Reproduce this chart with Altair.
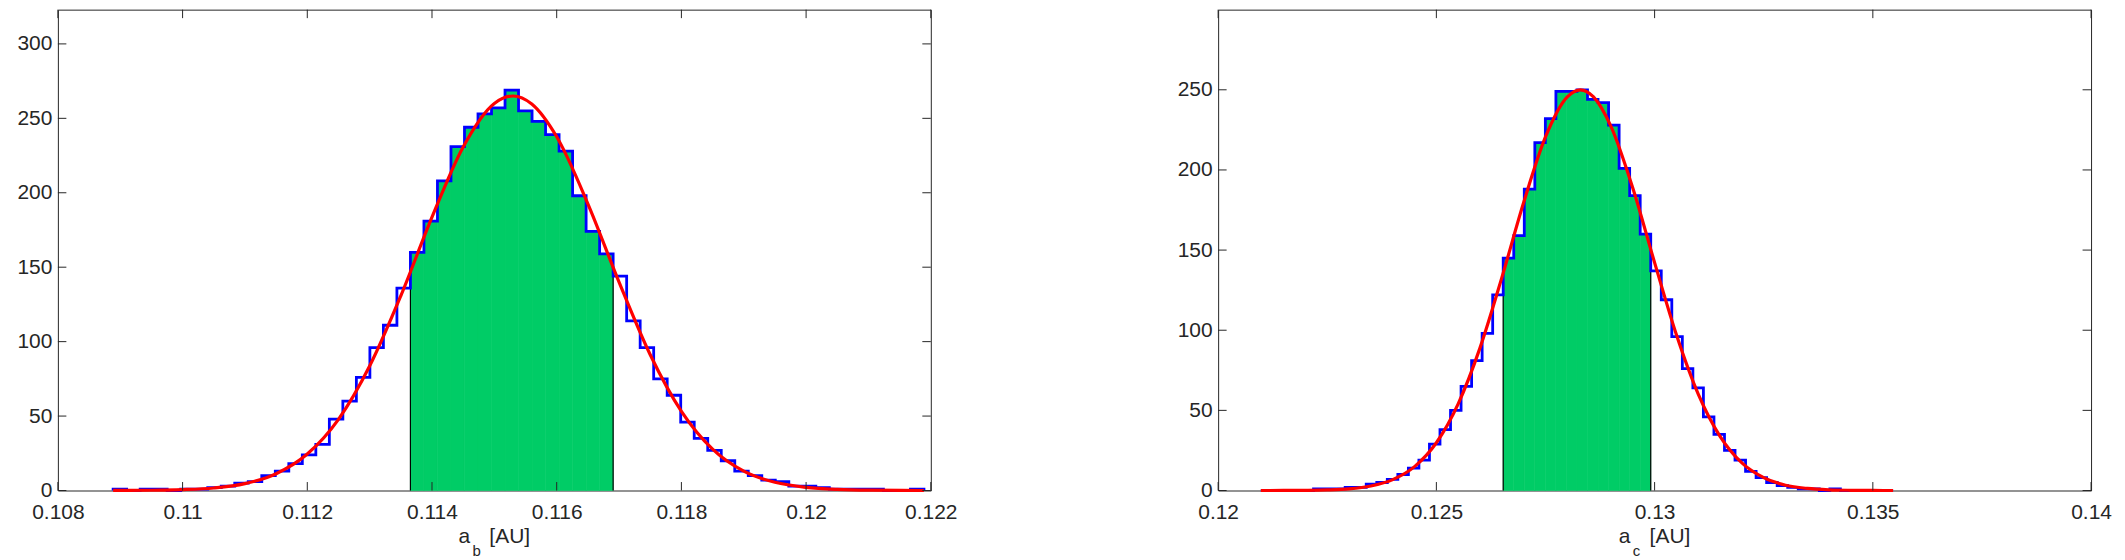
import altair as alt
import pandas as pd
import numpy as np

# ---------------- data ----------------
# 60-bin histograms (counts per bin)
left_counts = [1, 0, 1, 1, 0, 1, 1, 2, 3, 5,
               6, 10, 13, 18, 24, 31, 48, 60, 76, 96,
               111, 136, 160, 181, 208, 231, 244, 253, 257, 269,
               255, 248, 239, 228, 198, 174, 159, 144, 114, 96,
               75, 64, 46, 35, 27, 20, 13, 10, 7, 6,
               3, 3, 2, 1, 1, 1, 1, 0, 0, 1]
right_counts = [0, 0, 0, 0, 0, 1, 1, 1, 2, 2,
                4, 5, 7, 10, 14, 19, 29, 38, 50, 65,
                81, 98, 122, 145, 159, 188, 217, 232, 249, 249,
                250, 244, 242, 228, 201, 184, 160, 137, 119, 96,
                76, 64, 46, 35, 25, 19, 12, 8, 5, 3,
                2, 1, 1, 0, 1, 0, 0, 0, 0, 0]
# histogram data range (first and last bin edge)
left_range = [0.108886, 0.12189]
right_range = [0.120979, 0.135464]
# bins shaded green: [first, last+1)
left_green = [22, 37]
right_green = [23, 37]

# fitted curves
left_fit_x = [0.108886, 0.1095, 0.110, 0.1105, 0.111, 0.1115, 0.112, 0.1125, 0.113,
              0.1135, 0.114, 0.1145, 0.115, 0.1153, 0.1156, 0.116, 0.1165, 0.117,
              0.1175, 0.118, 0.1185, 0.119, 0.1195, 0.120, 0.1205, 0.121, 0.12189]
left_fit_y = [0.03, 0.17, 0.6, 1.7, 4.6, 11.3, 24.5, 47.8, 83.6,
              130.8, 183.6, 230.8, 260.0, 265.0, 259.6, 237.6, 192.6, 140.0,
              91.2, 53.2, 27.8, 13.0, 5.5, 2.1, 0.7, 0.2, 0.02]
right_fit_x = [0.120979, 0.1215, 0.122, 0.1225, 0.123, 0.1235, 0.124, 0.1245, 0.125,
               0.1255, 0.126, 0.1265, 0.127, 0.1275, 0.128, 0.1283, 0.1286, 0.129,
               0.1295, 0.130, 0.1305, 0.131, 0.1315, 0.132, 0.1325, 0.133, 0.1335,
               0.134, 0.1345, 0.135, 0.135464]
right_fit_y = [0.01, 0.03, 0.11, 0.35, 1.0, 2.8, 6.8, 14.9, 29.8,
               54.1, 89.0, 132.8, 179.7, 220.6, 245.6, 250.0, 245.6, 227.2,
               188.7, 142.2, 97.2, 60.2, 33.8, 17.2, 8.0, 3.3, 1.3,
               0.44, 0.14, 0.04, 0.01]

# axes
left_xdomain = [0.108, 0.122]
left_ymax = 323
left_xticks = [0.108, 0.110, 0.112, 0.114, 0.116, 0.118, 0.120, 0.122]
left_yticks = [0, 50, 100, 150, 200, 250, 300]
right_xdomain = [0.12, 0.14]
right_ymax = 300
right_xticks = [0.12, 0.125, 0.13, 0.135, 0.14]
right_yticks = [0, 50, 100, 150, 200, 250]

# ---------------- style ----------------
W, H = 875, 482
TICK = 8.5
FONT = "Liberation Sans"
FS = 21
AX = "#262626"
GREEN = "#00CC66"
BLUE = "#0000FF"
RED = "#FF0000"


def panel(counts, rng, green, fx, fy, xticks, yticks, xdom, ymax, sub):
    n = len(counts)
    edges = np.linspace(rng[0], rng[1], n + 1)
    bars = pd.DataFrame({"x0": edges[:-1], "x1": edges[1:],
                         "count": counts, "base": 0})
    g = bars.iloc[green[0]:green[1]]

    sx, sy = [edges[0]], [0]
    for i, c in enumerate(counts):
        sx += [edges[i], edges[i + 1]]
        sy += [c, c]
    sx.append(edges[-1])
    sy.append(0)
    steps = pd.DataFrame({"x": sx, "y": sy, "o": list(range(len(sx)))})

    bounds = pd.DataFrame({"x": [g["x0"].iloc[0], g["x1"].iloc[-1]],
                           "y": [g["count"].iloc[0], g["count"].iloc[-1]],
                           "base": [0, 0]})
    fit = pd.DataFrame({"x": fx, "y": fy})

    xs = alt.Scale(domain=xdom, nice=False, zero=False)
    ys = alt.Scale(domain=[0, ymax], nice=False, zero=True)
    xaxis = alt.Axis(values=xticks, format=".3~f", ticks=False, domain=False,
                     grid=False, title=None, labelFont=FONT, labelFontSize=FS,
                     labelColor=AX, labelPadding=11, labelFlush=False,
                     labelOverlap=False)
    yaxis = alt.Axis(values=yticks, format="d", ticks=False, domain=False,
                     grid=False, title=None, labelFont=FONT, labelFontSize=FS,
                     labelColor=AX, labelPadding=6, labelFlush=False,
                     labelOverlap=False)

    green_l = alt.Chart(g).mark_rect(color=GREEN, stroke=GREEN, strokeWidth=0.6).encode(
        x=alt.X("x0:Q", scale=xs, axis=xaxis), x2="x1:Q",
        y=alt.Y("count:Q", scale=ys, axis=yaxis), y2="base:Q")
    edge_l = alt.Chart(bounds).mark_rule(color="#000000", strokeWidth=1.2).encode(
        x=alt.X("x:Q", scale=xs, axis=xaxis),
        y=alt.Y("y:Q", scale=ys, axis=yaxis), y2="base:Q")
    step_l = alt.Chart(steps).mark_line(color=BLUE, strokeWidth=2.8,
                                        strokeJoin="miter", strokeCap="butt").encode(
        x=alt.X("x:Q", scale=xs, axis=xaxis),
        y=alt.Y("y:Q", scale=ys, axis=yaxis), order="o:Q")
    fit_l = alt.Chart(fit).mark_line(color=RED, strokeWidth=3.2,
                                     interpolate="monotone").encode(
        x=alt.X("x:Q", scale=xs, axis=xaxis),
        y=alt.Y("y:Q", scale=ys, axis=yaxis))

    xt = pd.DataFrame({"t": xticks})
    yt = pd.DataFrame({"t": yticks})
    tb = alt.Chart(xt).mark_rule(color=AX, strokeWidth=1).encode(
        x=alt.X("t:Q", scale=xs, axis=xaxis), y=alt.value(H), y2=alt.value(H - TICK))
    tt = alt.Chart(xt).mark_rule(color=AX, strokeWidth=1).encode(
        x=alt.X("t:Q", scale=xs, axis=xaxis), y=alt.value(0), y2=alt.value(TICK))
    tl = alt.Chart(yt).mark_rule(color=AX, strokeWidth=1).encode(
        y=alt.Y("t:Q", scale=ys, axis=yaxis), x=alt.value(0), x2=alt.value(TICK))
    tr = alt.Chart(yt).mark_rule(color=AX, strokeWidth=1).encode(
        y=alt.Y("t:Q", scale=ys, axis=yaxis), x=alt.value(W), x2=alt.value(W - TICK))

    x0 = W / 2 - 36
    t_a = alt.Chart(pd.DataFrame({"s": ["a"]})).mark_text(
        font=FONT, fontSize=FS, color=AX, align="left", baseline="alphabetic").encode(
        text="s:N", x=alt.value(x0), y=alt.value(H + 53))
    t_sub = alt.Chart(pd.DataFrame({"s": [sub]})).mark_text(
        font=FONT, fontSize=15, color=AX, align="left", baseline="alphabetic").encode(
        text="s:N", x=alt.value(x0 + 14), y=alt.value(H + 66))
    t_u = alt.Chart(pd.DataFrame({"s": ["[AU]"]})).mark_text(
        font=FONT, fontSize=FS, color=AX, align="left", baseline="alphabetic").encode(
        text="s:N", x=alt.value(x0 + 31), y=alt.value(H + 53))

    return alt.layer(green_l, edge_l, step_l, fit_l, tb, tt, tl, tr,
                     t_a, t_sub, t_u).properties(width=W, height=H)


left = panel(left_counts, left_range, left_green, left_fit_x, left_fit_y,
             left_xticks, left_yticks, left_xdomain, left_ymax, "b")
right = panel(right_counts, right_range, right_green, right_fit_x, right_fit_y,
              right_xticks, right_yticks, right_xdomain, right_ymax, "c")

chart = alt.hconcat(left, right, spacing=219).properties(
    padding={"left": 8, "top": 0, "right": 5, "bottom": 0},
    background="#FFFFFF",
).configure_view(stroke=AX, strokeWidth=1)

chart.save("out.html", embed_options={"renderer": "svg", "actions": False})
